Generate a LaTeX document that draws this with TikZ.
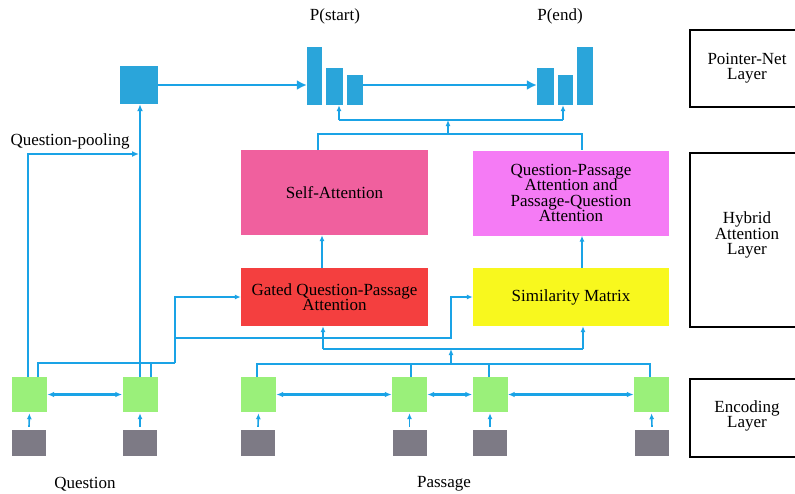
\documentclass[tikz,border=0pt]{standalone}
\usepackage{fontspec}
\setmainfont{Liberation Serif}
\usetikzlibrary{arrows.meta}
\definecolor{lineblue}{HTML}{1AA3E6}
\definecolor{barblue}{HTML}{2AA5DA}
\definecolor{encgreen}{HTML}{9AF07A}
\definecolor{embgray}{HTML}{7D7A85}
\definecolor{selfpink}{HTML}{F0609E}
\definecolor{qpviolet}{HTML}{F57BF5}
\definecolor{gatedred}{HTML}{F43F3F}
\definecolor{simyellow}{HTML}{F8F81E}
\tikzset{
  lbl/.style={font=\fontsize{17}{15.5}\selectfont, align=center, inner sep=0},
  blk/.style={rectangle, inner sep=0, draw=none, lbl},
  bar/.style={rectangle, inner sep=0, fill=barblue, draw=none},
  enc/.style={rectangle, inner sep=0, fill=encgreen, minimum width=35, minimum height=35},
  emb/.style={rectangle, inner sep=0, fill=embgray, minimum width=34, minimum height=26},
  layerbox/.style={rectangle, draw=black, line width=1.6, fill=white, inner sep=0},
  conn/.style={draw=lineblue, line width=1.6},
  thickconn/.style={draw=lineblue, line width=2.3},
  arr/.style={conn, -{Latex[length=6,width=5]}},
  bigarr/.style={thickconn, -{Latex[length=10,width=10]}},
  biarr/.style={thickconn, {Latex[length=7,width=5.5]}-{Latex[length=7,width=5.5]}},
}
\begin{document}
\begin{tikzpicture}[x=1pt,y=-1pt]
\useasboundingbox (0,0) rectangle (795,493);
\clip (0,0) rectangle (795,493);
\fill[white] (0,0) rectangle (795,493);

% layer boxes
\node[layerbox, minimum width=116, minimum height=77, anchor=north west] (lp) at (689,29) {};
\node[lbl] (lpt) at (747,68) {Pointer-Net\\Layer};
\node[layerbox, minimum width=116, minimum height=174, anchor=north west] (lh) at (689,152) {};
\node[lbl] (lht) at (747,235) {Hybrid\\Attention\\Layer};
\node[layerbox, minimum width=116, minimum height=78, anchor=north west] (le) at (689,378) {};
\node[lbl] (let) at (747,416) {Encoding\\Layer};

% pointer net
\node[bar, minimum width=38, minimum height=38] (pool) at (139,85) {};
\node[bar, minimum width=15, minimum height=58] (s1) at (314.5,76) {};
\node[bar, minimum width=17, minimum height=37] (s2) at (334.5,86.5) {};
\node[bar, minimum width=16, minimum height=30] (s3) at (355,90) {};
\node[bar, minimum width=17, minimum height=37] (e1) at (545.5,86.5) {};
\node[bar, minimum width=15, minimum height=30] (e2) at (565.5,90) {};
\node[bar, minimum width=16, minimum height=58] (e3) at (585,76) {};
\node[lbl] (pst) at (335,16) {P(start)};
\node[lbl] (pen) at (560,16) {P(end)};

% attention blocks
\node[blk, fill=selfpink, minimum width=187, minimum height=85] (self) at (334.5,192.5) {Self-Attention};
\node[blk, fill=qpviolet, minimum width=196, minimum height=85] (qp) at (571,193) {Question-Passage\\Attention and\\Passage-Question\\Attention};
\node[blk, fill=gatedred, minimum width=187, minimum height=58] (gated) at (334.5,297) {Gated Question-Passage\\Attention};
\node[blk, fill=simyellow, minimum width=196, minimum height=58] (sim) at (571,297) {Similarity Matrix};

% encoders
\node[enc] (q1) at (29.5,394.5) {};
\node[enc] (q2) at (140,394.5) {};
\node[enc] (p1) at (258.5,394.5) {};
\node[enc] (p2) at (409.5,394.5) {};
\node[enc] (p3) at (490,394.5) {};
\node[enc] (p4) at (651.5,394.5) {};
\node[emb] (gq1) at (29,443) {};
\node[emb] (gq2) at (140,443) {};
\node[emb] (gp1) at (258,443) {};
\node[emb] (gp2) at (409.5,443) {};
\node[emb] (gp3) at (490,443) {};
\node[emb] (gp4) at (652,443) {};

\node[lbl] (qlab) at (85,484) {Question};
\node[lbl] (plab) at (444,484) {Passage};
\node[lbl] (qpool) at (70,141) {Question-pooling};

% embedding to encoder
\foreach \g/\e in {gq1/q1,gq2/q2,gp1/p1,gp2/p2,gp3/p3,gp4/p4}
  \draw[arr] ([yshift=3]\g.north) -- ([yshift=-1]\e.south);

% bidirectional encoder links
\draw[biarr] (q1.east) -- (q2.west);
\draw[biarr] (p1.east) -- (p2.west);
\draw[biarr] (p2.east) -- (p3.west);
\draw[biarr] (p3.east) -- (p4.west);

% question pooling
\coordinate (qpin) at (139,154);
\draw[thickconn, -{Latex[length=7,width=6]}] (q2.north) -- (q2.north |- pool.south);
\draw[thickconn, -{Latex[length=7,width=6]}] ([xshift=-1.5]q1.north) |- (qpin);

% pointer arrows
\draw[bigarr] (pool.east) -- (pool.east -| s1.west);
\draw[bigarr] (s3.east |- pool.east) -- (e1.west |- pool.east);

% question to gated / similarity
\coordinate (qj) at (175,363);
\coordinate (qb) at (175,338);
\coordinate (sb) at (451,297);
\draw[conn] ([xshift=8.5]q1.north) |- (qj);
\draw[conn] ([xshift=11]q2.north) -- ([xshift=11]q2.north |- qj);
\draw[arr] (qj) |- (gated.west);
\draw[arr] (qb) -| (sb) -- (sim.west);

% passage to gated / similarity
\coordinate (pj) at (451,364);
\coordinate (pa) at (451,349);
\coordinate (gb) at (323,349);
\coordinate (sb2) at (583,349);
\draw[conn] ([xshift=-1.5]p1.north) |- ([xshift=-1.5]p4.north |- pj) -- ([xshift=-1.5]p4.north);
\draw[conn] ([xshift=1.5]p2.north) -- ([xshift=1.5]p2.north |- pj);
\draw[conn] ([xshift=-1]p3.north) -- ([xshift=-1]p3.north |- pj);
\draw[arr] (pj) -- (pa);
\draw[conn] (gb) -- (sb2);
\draw[arr] (gb) -- (gb |- gated.south);
\draw[arr] (sb2) -- (sb2 |- sim.south);

% gated -> self, sim -> qp
\draw[arr] ([xshift=-12.5]gated.north) -- ([xshift=-12.5]self.south);
\draw[arr] ([xshift=11]sim.north) -- ([xshift=11]qp.south);

% attention outputs to pointer net
\coordinate (tj) at (448,134);
\coordinate (tt) at (448,120);
\coordinate (sl) at (339,120);
\coordinate (sr) at (563,120);
\draw[conn] ([xshift=-16.5]self.north) |- (tj) -| ([xshift=11]qp.north);
\draw[arr] (tj) -- (tt);
\draw[conn] (sl) -- (sr);
\draw[arr] (sl) -- (sl |- s2.south);
\draw[arr] (sr) -- (sr |- e2.south);
\end{tikzpicture}
\end{document}
